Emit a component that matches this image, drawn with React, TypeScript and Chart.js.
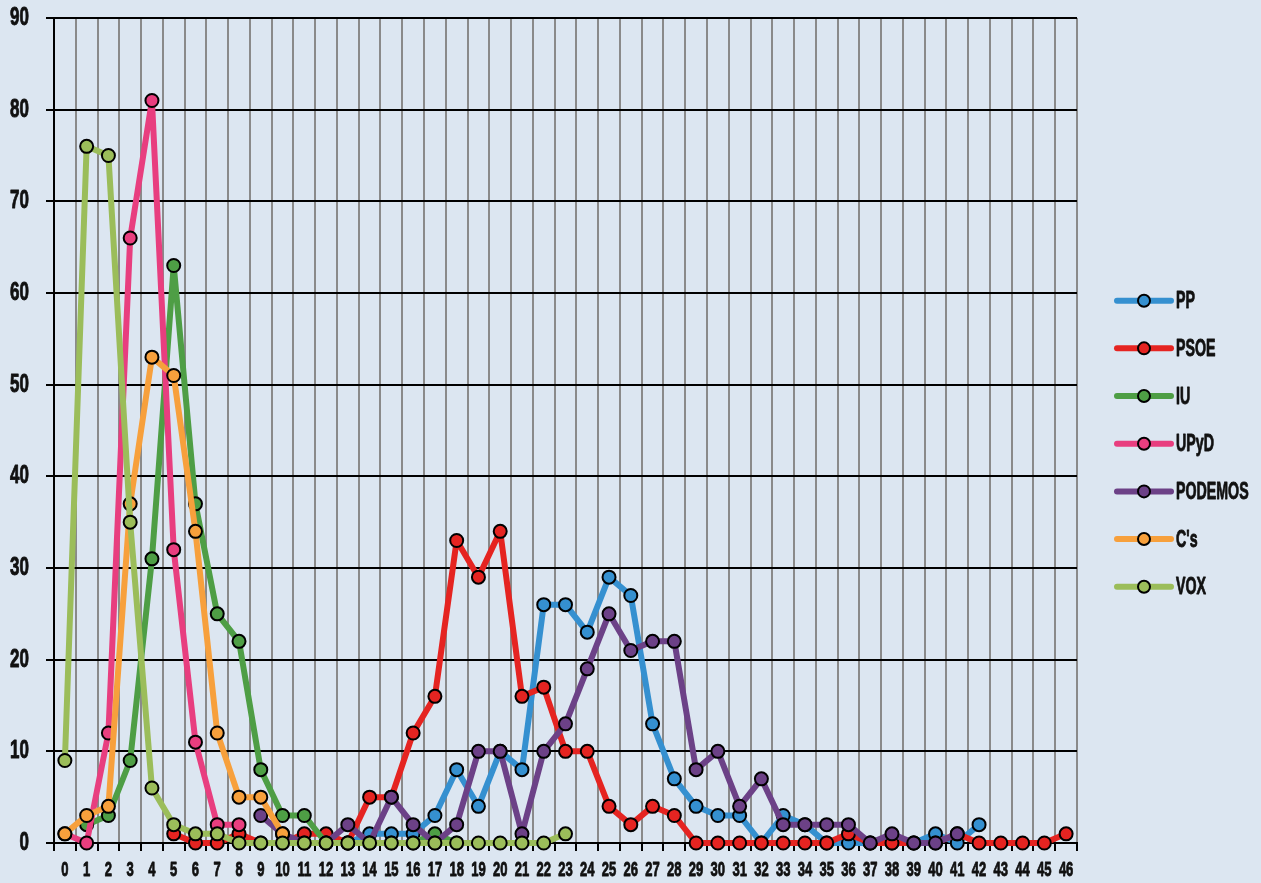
import React, { useEffect, useRef } from "react";
import { Chart, registerables } from "chart.js";

Chart.register(...registerables);

const categories = [
  "0", "1", "2", "3", "4", "5", "6", "7", "8", "9",
  "10", "11", "12", "13", "14", "15", "16", "17", "18", "19",
  "20", "21", "22", "23", "24", "25", "26", "27", "28", "29",
  "30", "31", "32", "33", "34", "35", "36", "37", "38", "39",
  "40", "41", "42", "43", "44", "45", "46",
];

const seriesNames = ["PP", "PSOE", "IU", "UPyD", "PODEMOS", "C's", "VOX"];
const seriesColors = ["#3590d0", "#e52421", "#4e9e45", "#e83e7f", "#6c4187", "#f7a03c", "#9bbd5a"];

const ppValues = [
  null, null, null, null, null, null, null, null, null, null,
  null, 0, 0, 0, 1, 1, 1, 3, 8, 4,
  10, 8, 26, 26, 23, 29, 27, 13, 7, 4,
  3, 3, 0, 3, 2, 0, 0, 0, 0, 0,
  1, 0, 2, null, null, null, null,
];
const psoeValues = [
  null, null, null, null, null, 1, 0, 0, 1, 0,
  0, 1, 1, 0, 5, 5, 12, 16, 33, 29,
  34, 16, 17, 10, 10, 4, 2, 4, 3, 0,
  0, 0, 0, 0, 0, 0, 1, 0, 0, 0,
  0, 1, 0, 0, 0, 0, 1,
];
const iuValues = [
  null, 2, 3, 9, 31, 63, 37, 25, 22, 8,
  3, 3, 0, 0, 0, 0, 0, 1, 0, null,
  null, null, null, null, null, null, null, null, null, null,
  null, null, null, null, null, null, null, null, null, null,
  null, null, null, null, null, null, null,
];
const upydValues = [
  1, 0, 12, 66, 81, 32, 11, 2, 2, null,
  null, null, null, null, null, null, null, null, null, null,
  null, null, null, null, null, null, null, null, null, null,
  null, null, null, null, null, null, null, null, null, null,
  null, null, null, null, null, null, null,
];
const podemosValues = [
  null, null, null, null, null, null, null, null, null, 3,
  1, 0, 0, 2, 0, 5, 2, 0, 2, 10,
  10, 1, 10, 13, 19, 25, 21, 22, 22, 8,
  10, 4, 7, 2, 2, 2, 2, 0, 1, 0,
  0, 1, null, null, null, null, null,
];
const csValues = [
  1, 3, 4, 37, 53, 51, 34, 12, 5, 5,
  1, null, null, null, null, null, null, null, null, null,
  null, null, null, null, null, null, null, null, null, null,
  null, null, null, null, null, null, null, null, null, null,
  null, null, null, null, null, null, null,
];
const voxValues = [
  9, 76, 75, 35, 6, 2, 1, 1, 0, 0,
  0, 0, 0, 0, 0, 0, 0, 0, 0, 0,
  0, 0, 0, 1, null, null, null, null, null, null,
  null, null, null, null, null, null, null, null, null, null,
  null, null, null, null, null, null, null,
];

const allValues = [ppValues, psoeValues, iuValues, upydValues, podemosValues, csValues, voxValues];

const yMin = 0;
const yMax = 90;
const yStep = 10;

const BG = "#dce6f1";
const FONT = "'Liberation Sans', Arial, sans-serif";

function drawCondensed(
  ctx: CanvasRenderingContext2D,
  text: string,
  x: number,
  y: number,
  size: number,
  sx: number,
  align: CanvasTextAlign
) {
  ctx.save();
  ctx.font = `bold ${size}px ${FONT}`;
  ctx.fillStyle = "#111";
  ctx.strokeStyle = "#111";
  ctx.lineWidth = 0.9;
  ctx.lineJoin = "round";
  ctx.textBaseline = "middle";
  ctx.textAlign = align;
  ctx.translate(x, y);
  ctx.scale(sx, 1);
  ctx.fillText(text, 0, 0);
  ctx.strokeText(text, 0, 0);
  ctx.restore();
}

const bgPlugin = {
  id: "bgFill",
  beforeDraw(chart: any) {
    const ctx = chart.ctx;
    ctx.save();
    ctx.fillStyle = BG;
    ctx.fillRect(0, 0, chart.width, chart.height);
    ctx.restore();
  },
};

const tickLabelPlugin = {
  id: "condensedTicks",
  afterDraw(chart: any) {
    const ctx = chart.ctx;
    const xs = chart.scales.x;
    const ys = chart.scales.y;
    xs.ticks.forEach((t: any, i: number) => {
      const px = xs.getPixelForTick(i);
      const label = xs.getLabelForValue(t.value);
      drawCondensed(ctx, String(label), px, xs.top + 27, 21, 0.62, "center");
    });
    ys.ticks.forEach((t: any, i: number) => {
      const py = ys.getPixelForTick(i);
      drawCondensed(ctx, String(t.label), ys.right - 25, py, 25, 0.68, "right");
    });
  },
};

const sideLegendPlugin = {
  id: "sideLegend",
  afterDraw(chart: any) {
    const ctx = chart.ctx;
    const x0 = 1117;
    const x1 = 1171;
    const cx = 1144;
    const tx = 1176;
    const y0 = 300.7;
    const dy = 47.67;
    chart.data.datasets.forEach((ds: any, i: number) => {
      const y = y0 + i * dy;
      ctx.save();
      ctx.strokeStyle = ds.borderColor;
      ctx.lineWidth = 6;
      ctx.lineCap = "round";
      ctx.beginPath();
      ctx.moveTo(x0, y);
      ctx.lineTo(x1, y);
      ctx.stroke();
      ctx.beginPath();
      ctx.arc(cx, y, 6, 0, Math.PI * 2);
      ctx.fillStyle = ds.backgroundColor;
      ctx.fill();
      ctx.lineWidth = 2;
      ctx.strokeStyle = "#000";
      ctx.stroke();
      ctx.restore();
      drawCondensed(ctx, ds.label, tx, y + 1, 24.5, 0.58, "left");
    });
  },
};

export default function App() {
  const canvasRef = useRef<HTMLCanvasElement | null>(null);

  useEffect(() => {
    document.body.style.background = BG;
    const canvas = canvasRef.current;
    if (!canvas) return;
    const datasets = seriesNames.map((name, i) => ({
      label: name,
      data: allValues[i],
      borderColor: seriesColors[i],
      backgroundColor: seriesColors[i],
      pointBackgroundColor: seriesColors[i],
      pointBorderColor: "#000",
      pointBorderWidth: 2,
      pointRadius: 6.5,
      borderWidth: 6,
      borderCapStyle: "round" as const,
      borderJoinStyle: "round" as const,
      tension: 0,
      spanGaps: false,
      clip: false as any,
      order: seriesNames.length - i,
    }));

    const chart = new Chart(canvas, {
      type: "line",
      data: { labels: categories, datasets },
      plugins: [bgPlugin, tickLabelPlugin, sideLegendPlugin],
      options: {
        animation: false,
        responsive: false,
        devicePixelRatio: 1,
        layout: { padding: { top: 18, right: 184, left: 0, bottom: 0 } },
        plugins: {
          legend: { display: false },
          tooltip: { enabled: false },
          title: { display: false },
        },
        scales: {
          x: {
            type: "category",
            offset: true,
            grid: {
              offset: true,
              color: "#8a8a8a",
              lineWidth: 2,
              tickColor: "#000",
              tickLength: 8,
              drawTicks: true,
            },
            border: { color: "#000", width: 2 },
            ticks: {
              display: false,
              autoSkip: false,
              maxRotation: 0,
              minRotation: 0,
            },
            afterFit(scale: any) {
              scale.height = 40;
            },
          },
          y: {
            min: yMin,
            max: yMax,
            ticks: {
              display: false,
              stepSize: yStep,
            },
            grid: {
              color: "#000",
              lineWidth: 2,
              tickColor: "#000",
              tickLength: 8,
            },
            border: { color: "#000", width: 2 },
            afterFit(scale: any) {
              scale.width = 54;
            },
          },
        },
      },
    });
    return () => chart.destroy();
  }, []);

  return (
    <div style={{ position: "absolute", left: 0, top: 0, width: 1261, height: 883, background: BG }}>
      <canvas ref={canvasRef} width={1261} height={883} style={{ display: "block", width: 1261, height: 883 }} />
    </div>
  );
}
